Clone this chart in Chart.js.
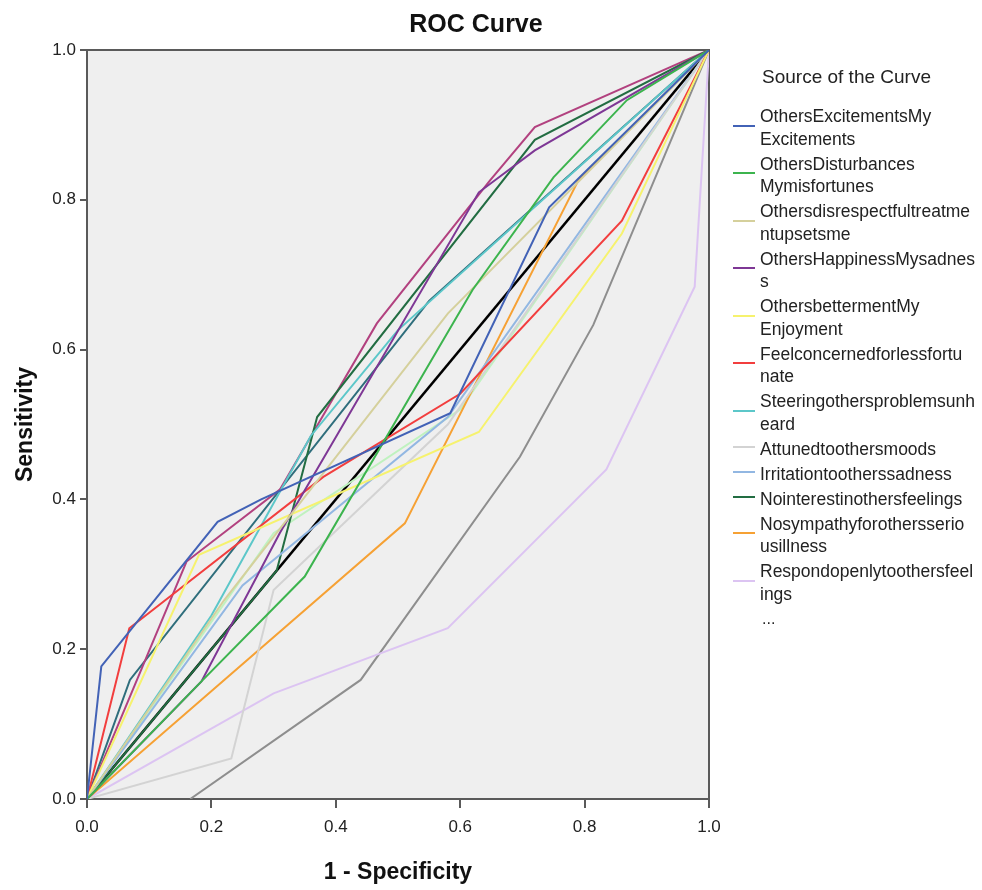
<!DOCTYPE html>
<html>
<head>
<meta charset="utf-8">
<script src="https://cdn.jsdelivr.net/npm/chart.js@4.4.1/dist/chart.umd.min.js"></script>
<style>
  body { margin: 0; background: #fff; font-family: "Liberation Sans", Arial, sans-serif; }
  #wrap { position: relative; width: 982px; height: 890px; }
  #legend { position: absolute; left: 733px; top: 62px; color: #222; }
  #legend .head { font-size: 19px; margin-left: 29px; height: 30px; line-height: 30px; margin-bottom: 13px; }
  #legend .item { position: relative; padding-left: 27px; font-size: 17.5px; line-height: 22.5px; margin-bottom: 2.5px; }
  #legend .sw { position: absolute; left: 0; width: 22px; height: 2px; }
  #legend .more { padding-left: 29px; font-size: 16px; line-height: 22px; }
</style>
</head>
<body>
<div id="wrap">
  <canvas id="rocChart"></canvas>
  <div id="legend"></div>
</div>
<script>
// ROC points as [1 - specificity, sensitivity]
const excitementsPts = [[0, 0], [0.023, 0.177], [0.21, 0.37], [0.28, 0.40], [0.584, 0.515], [0.743, 0.79], [1, 1]];
const disturbancesPts = [[0, 0], [0.184, 0.157], [0.35, 0.297], [0.62, 0.68], [0.75, 0.83], [0.868, 0.933], [1, 1]];
const disrespectPts = [[0, 0], [0.22, 0.265], [0.58, 0.648], [1, 1]];
const happinessPts = [[0, 0], [0.184, 0.157], [0.31, 0.355], [0.63, 0.81], [0.72, 0.866], [1, 1]];
const bettermentPts = [[0, 0], [0.18, 0.326], [0.63, 0.49], [0.86, 0.755], [1, 1]];
const concernedPts = [[0, 0], [0.068, 0.228], [0.38, 0.43], [0.6, 0.541], [0.86, 0.772], [1, 1]];
const steeringPts = [[0, 0], [0.2, 0.245], [0.36, 0.485], [0.5, 0.626], [1, 1]];
const attunedPts = [[0, 0], [0.232, 0.054], [0.3, 0.279], [0.58, 0.5], [1, 1]];
const irritationPts = [[0, 0], [0.25, 0.285], [0.58, 0.51], [1, 1]];
const noInterestPts = [[0, 0], [0.305, 0.305], [0.37, 0.51], [0.72, 0.88], [1, 1]];
const noSympathyPts = [[0, 0], [0.511, 0.368], [0.79, 0.826], [1, 1]];
const respondPts = [[0, 0], [0.3, 0.141], [0.58, 0.228], [0.835, 0.44], [0.977, 0.684], [1, 1]];
// curves not named in the legend ("...")
const extra1Pts = [[0, 0], [0.16, 0.317], [0.31, 0.413], [0.466, 0.635], [0.648, 0.826], [0.72, 0.897], [1, 1]];
const extra2Pts = [[0, 0], [0.069, 0.159], [0.55, 0.665], [1, 1]];
const extra3Pts = [[0, 0], [0.3, 0.355], [0.6, 0.52], [1, 1]];
const extra4Pts = [[0.166, 0], [0.44, 0.159], [0.696, 0.457], [0.814, 0.633], [1, 1]];
const referencePts = [[0, 0], [1, 1]];

const xTicks = [0, 0.2, 0.4, 0.6, 0.8, 1.0];
const yTicks = [0, 0.2, 0.4, 0.6, 0.8, 1.0];

const series = [
  { label: ['OthersExcitementsMy', 'Excitements'], pts: excitementsPts, color: '#4262b6', legend: true },
  { label: ['OthersDisturbances', 'Mymisfortunes'], pts: disturbancesPts, color: '#3cb44e', legend: true },
  { label: ['Othersdisrespectfultreatme', 'ntupsetsme'], pts: disrespectPts, color: '#d5d09c', legend: true },
  { label: ['OthersHappinessMysadnes', 's'], pts: happinessPts, color: '#7e3795', legend: true },
  { label: ['OthersbettermentMy', 'Enjoyment'], pts: bettermentPts, color: '#f6f26e', legend: true },
  { label: ['Feelconcernedforlessfortu', 'nate'], pts: concernedPts, color: '#f23e3e', legend: true },
  { label: ['Steeringothersproblemsunh', 'eard'], pts: steeringPts, color: '#5cc7c9', legend: true },
  { label: ['Attunedtoothersmoods'], pts: attunedPts, color: '#d3d3d3', legend: true },
  { label: ['Irritationtootherssadness'], pts: irritationPts, color: '#92b7e2', legend: true },
  { label: ['Nointerestinothersfeelings'], pts: noInterestPts, color: '#226d42', legend: true },
  { label: ['Nosympathyforothersserio', 'usillness'], pts: noSympathyPts, color: '#f6a134', legend: true },
  { label: ['Respondopenlytoothersfeel', 'ings'], pts: respondPts, color: '#dcc4f2', legend: true },
  { label: ['Curve 13'], pts: extra1Pts, color: '#b2417f', legend: false },
  { label: ['Curve 14'], pts: extra2Pts, color: '#2f6e7c', legend: false },
  { label: ['Curve 15'], pts: extra3Pts, color: '#bff2bf', legend: false },
  { label: ['Curve 16'], pts: extra4Pts, color: '#8e8e8e', legend: false },
  { label: ['Reference Line'], pts: referencePts, color: '#000000', legend: false, width: 2.5 }
];

const FONT = '"Liberation Sans", Arial, sans-serif';
const axisColor = '#5a5a5a';

const plotBackground = {
  id: 'plotBackground',
  beforeDraw(chart) {
    const { ctx, chartArea: a } = chart;
    ctx.save();
    ctx.fillStyle = '#efefef';
    ctx.fillRect(a.left, a.top, a.right - a.left, a.bottom - a.top);
    ctx.restore();
  }
};

const frameAxis = (position, fit) => ({
  type: 'linear', position, min: 0, max: 1,
  ticks: { display: false },
  grid: { display: false, drawTicks: false },
  border: { display: true, color: axisColor, width: 2 },
  afterFit: fit
});

new Chart(document.getElementById('rocChart'), {
  type: 'line',
  data: {
    datasets: series.map(s => ({
      label: s.label.join(''),
      data: s.pts.map(p => ({ x: p[0], y: p[1] })),
      borderColor: s.color,
      backgroundColor: s.color,
      borderWidth: s.width || 2,
      pointRadius: 0,
      tension: 0,
      fill: false
    }))
  },
  options: {
    responsive: true,
    maintainAspectRatio: false,
    animation: false,
    layout: { padding: { top: 0, left: 0, right: 30, bottom: 0 } },
    plugins: {
      legend: { display: false },
      tooltip: { enabled: false },
      title: {
        display: true,
        text: 'ROC Curve',
        color: '#111',
        font: { family: FONT, size: 25, weight: 'bold' },
        padding: { top: 10, bottom: 10 }
      }
    },
    scales: {
      x: {
        type: 'linear', position: 'bottom', min: 0, max: 1,
        afterBuildTicks: s => { s.ticks = xTicks.map(v => ({ value: v })); },
        ticks: { callback: v => v.toFixed(1), color: '#222', font: { family: FONT, size: 17 }, padding: 9, maxRotation: 0 },
        grid: { drawOnChartArea: false, tickLength: 9, color: axisColor, lineWidth: 2 },
        border: { color: axisColor, width: 2 },
        title: { display: true, text: '1 - Specificity', color: '#111', font: { family: FONT, size: 23, weight: 'bold' }, padding: { top: 4, bottom: 4 } },
        afterFit: s => { s.height = 91; }
      },
      y: {
        type: 'linear', position: 'left', min: 0, max: 1,
        afterBuildTicks: s => { s.ticks = yTicks.map(v => ({ value: v })); },
        ticks: { callback: v => v.toFixed(1), color: '#222', font: { family: FONT, size: 17 }, padding: 4 },
        grid: { drawOnChartArea: false, tickLength: 7, color: axisColor, lineWidth: 2 },
        border: { color: axisColor, width: 2 },
        title: { display: true, text: 'Sensitivity', color: '#111', font: { family: FONT, size: 23, weight: 'bold' }, padding: { top: 12, bottom: 0 } },
        afterFit: s => { s.width = 87; }
      },
      xTop: frameAxis('top', s => { s.height = 0; }),
      yRight: frameAxis('right', s => { s.width = 243; })
    }
  },
  plugins: [plotBackground]
});

// legend: first twelve curves, then "..."
const legendEl = document.getElementById('legend');
let html = '<div class="head">Source of the Curve</div>';
series.filter(s => s.legend).forEach(s => {
  const h = s.label.length * 22.5;
  html += `<div class="item"><div class="sw" style="top:${h / 2 - 3}px;background:${s.color}"></div>${s.label.join('<br>')}</div>`;
});
html += '<div class="more">...</div>';
legendEl.innerHTML = html;
</script>
</body>
</html>
